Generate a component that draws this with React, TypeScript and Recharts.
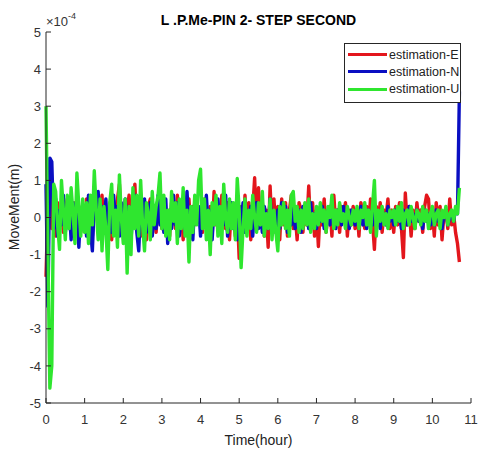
import { LineChart, Line, XAxis, YAxis, Legend } from "recharts";

// sampling step of the record, in hours
const STEP = 0.05;

// movement, in units of 1e-4 m, one value per 0.05 h (0 .. 10.70 h)
const EAST = [
  -1.6, 0.3, 0.9, -0.3, 0.2, -0.5, 0.4, -0.2, 0.3, -0.4, 0.2, 0.5, -0.3, 0.1, -0.5, 0.4, 0.0, 0.3, -0.4, 0.2,
  -0.3, 0.5, -0.1, 0.3, -0.5, 0.2, 0.4, -0.3, 0.1, 0.6, -0.4, 0.2, -0.2, 0.4, -0.6, 0.3, 0.1, 0.5, 0.9, -0.2,
  0.3, -0.4, 0.2, 0.6, -0.3, 0.1, 0.9, -0.2, 0.4, -0.5, 0.2, 0.0, -0.6, 0.3, 0.5, -0.2, 0.1, -0.4, 0.4, 0.2,
  -0.3, 0.5, -0.1, 0.2, -0.5, 0.4, 0.1, -0.3, 0.6, -0.2, 0.3, -0.6, 0.2, 0.0, 0.5, -0.4, 0.3, -0.2, 0.4, -0.1,
  0.2, -0.4, 0.5, 0.1, -0.3, 0.3, -0.5, 0.7, -0.2, 0.2, -0.4, 0.6, 0.0, -0.3, 0.4, -0.6, 0.3, 0.1, -0.5, 0.2,
  -1.1, 0.3, -0.4, 0.6, -0.2, 0.4, -0.6, 0.2, 1.07, -0.3, 0.8, -0.2, 0.4, -0.5, 0.2, -0.8, 0.85, -0.3, 0.5, -0.4,
  0.3, -0.6, 0.5, -0.2, 0.4, -0.5, 0.2, 0.6, -0.3, 0.1, -0.6, 0.4, 0.2, -0.4, 0.3, -0.2, 0.85, -0.3, 0.4, -0.5,
  0.2, -0.78, 0.3, -0.2, 0.5, -0.4, 0.1, 0.3, -0.5, 0.6, -0.2, 0.2, -0.4, 0.3, -0.1, 0.4, -0.5, 0.2, -0.2, 0.3,
  -0.3, 0.2, -0.5, 0.4, 0.1, -0.3, 0.3, -0.2, 0.5, -0.1, -0.86, 0.3, -0.2, 0.4, -0.4, 0.2, 0.0, 0.5, -0.3, 0.2,
  -0.4, 0.3, -0.2, 0.4, -0.3, -1.08, 0.66, -0.2, 0.3, -0.5, 0.2, -0.3, 0.4, -0.1, 0.2, -0.4, 0.3, 0.6, 0.5, -0.3,
  0.2, -0.5, 0.4, -0.2, 0.3, -0.6, 0.1, 0.2, -0.3, 0.5, -0.2, 0.1, -0.4, -0.7, -1.2,
];

const NORTH = [
  0.9, -2.4, 1.6, 1.5, -0.3, 0.5, -0.5, 0.2, -0.2, 0.6, -0.4, 0.1, 0.3, -0.6, 0.4, -0.2, 0.5, -0.8, 0.2, -0.3,
  0.3, -0.5, 0.6, -0.3, -0.9, 0.4, 0.1, 0.7, -0.4, 0.3, -0.2, 0.5, -0.8, 0.2, -0.4, 0.6, -0.1, 0.3, -0.5, 0.4,
  -0.3, 0.5, -0.2, 0.3, -0.6, 0.2, 0.6, -0.4, -0.9, 0.3, -0.2, 0.5, -0.4, 0.2, 0.4, -0.5, 0.1, -0.3, 0.6, -0.2,
  0.3, -0.4, 0.5, -0.7, 0.2, -0.3, 0.6, -0.2, 0.4, -0.5, 0.1, 0.3, -0.4, 0.7, -0.3, 0.2, -0.6, 0.4, -0.1, 0.3,
  -0.5, 0.4, -0.2, 0.6, -0.3, 0.2, -0.6, 0.3, 0.0, 0.5, -0.4, 0.2, -0.2, 0.6, -0.5, 0.1, 0.4, -0.3, 0.2, -0.6,
  0.3, -0.2, 0.4, -0.4, 0.2, -0.1, 0.3, -0.5, 0.2, 0.4, -0.3, 0.1, -0.4, 0.3, 0.0, -0.3, 0.5, -0.2, 0.1, -0.4,
  0.2, -0.3, 0.4, -0.1, 0.3, -0.4, 0.2, -0.2, 0.3, -0.3, 0.1, 0.2, -0.4, 0.3, -0.1, 0.2, -0.3, 0.4, -0.2, 0.1,
  -0.3, 0.2, -0.1, 0.3, -0.3, 0.1, 0.2, -0.2, 0.3, -0.1, -0.3, 0.2, 0.0, -0.2, 0.3, -0.1, 0.1, -0.3, 0.2, 0.0,
  -0.2, 0.2, -0.1, 0.3, -0.2, 0.1, -0.3, 0.2, 0.0, -0.2, 0.2, -0.1, 0.1, -0.3, 0.2, 0.0, -0.2, 0.3, -0.1, 0.1,
  -0.2, 0.2, -0.1, 0.1, -0.3, 0.2, 0.0, -0.2, 0.3, -0.1, 0.1, -0.2, 0.2, -0.1, 0.0, -0.3, 0.2, -0.1, 0.1, -0.2,
  0.1, -0.2, 0.2, -0.1, 0.0, -0.3, 0.1, 0.2, -0.2, 0.0, 0.1, -0.1, 0.2, 0.1, 3.4,
];

const UP = [
  3.0, -1.0, -4.6, -4.0, 0.9, 0.7, -0.2, -0.86, 1.0, 0.2, -0.6, 0.6, -0.3, 0.8, 0.1, -0.7, 1.2, 0.3, -0.5, 0.5,
  -0.4, 0.4, -0.7, 0.6, -0.2, 1.26, 0.2, -0.6, 0.5, -0.9, 0.3, -0.3, -1.4, 0.4, 0.9, -0.5, 0.2, -0.8, 1.15, 0.0,
  -0.7, 0.5, -1.5, 0.3, -1.0, 0.8, -0.3, 0.6, -0.5, 1.0, -0.2, -0.9, 0.4, 0.1, -0.6, 0.7, -0.2, 0.3, 0.6, 1.2,
  -0.3, 0.6, -0.5, 0.2, -0.6, 0.7, -0.1, 0.4, -0.7, 0.5, -0.3, 0.8, -0.5, 0.2, -1.2, 0.3, -0.4, 0.6, -0.2, 1.0,
  1.3, -0.3, 0.5, -0.6, 0.2, -1.0, 0.4, -0.2, 0.6, -0.5, 0.3, -0.7, 0.9, 0.0, -0.4, 0.5, -0.3, 0.4, -0.6, 1.05,
  0.2, -1.35, -0.3, 0.5, -0.5, 0.2, -0.3, 0.6, 0.0, -0.4, 0.4, -0.2, 0.7, -0.5, 0.1, -0.3, 0.5, -0.6, 0.2, -0.4,
  -0.9, 0.3, -0.2, 0.4, -0.3, 0.2, -0.5, 0.6, 0.7, -0.1, 0.3, -0.4, 0.2, -0.3, 0.4, -0.2, 0.5, -0.4, 0.1, -0.3,
  0.3, -0.2, 0.4, -0.1, 0.2, -0.4, 0.3, 0.0, 0.6, -0.3, 0.2, -0.2, 0.4, -0.1, 0.1, -0.3, 0.3, 0.0, -0.2, 0.2,
  -0.1, 0.3, -0.3, 0.2, 0.0, 0.4, -0.2, 0.2, -0.4, 0.3, 1.0, -0.5, 0.2, -0.1, 0.3, -0.2, 0.1, -0.3, 0.2, 0.0,
  0.2, -0.2, 0.3, -0.1, 0.4, -0.3, 0.1, 0.2, -0.2, 0.3, 0.0, -0.3, 0.2, 0.1, -0.2, 0.3, -0.1, 0.2, -0.3, 0.1,
  0.3, -0.2, 0.1, 0.2, -0.3, 0.2, 0.0, 0.3, -0.2, 0.1, 0.2, -0.1, 0.3, 0.1, 0.8,
];

const X_TICKS = [0, 1, 2, 3, 4, 5, 6, 7, 8, 9, 10, 11];
const Y_TICKS = [-5, -4, -3, -2, -1, 0, 1, 2, 3, 4, 5];

const SERIES = [
  { key: "e", name: "estimation-E", color: "#e3161c" },
  { key: "n", name: "estimation-N", color: "#0a0fc2" },
  { key: "u", name: "estimation-U", color: "#2fe62f" },
];

const FONT = "'Liberation Sans', Arial, Helvetica, sans-serif";
const AXIS = "#262626";

const rows = EAST.map((e, i) => ({
  t: +(i * STEP).toFixed(2),
  e,
  n: NORTH[i],
  u: UP[i],
}));

function LegendBox({ payload }: any) {
  const items = payload || [];
  return (
    <div
      style={{
        width: 115,
        height: 56,
        border: `1px solid ${AXIS}`,
        background: "#fff",
        fontFamily: FONT,
        fontSize: 12.5,
        color: "#222",
        paddingTop: 2,
        boxSizing: "content-box",
      }}
    >
      {items.map((it: any) => (
        <div key={it.value} style={{ display: "flex", alignItems: "center", height: 17.3 }}>
          <span style={{ display: "inline-block", width: 39, height: 3, background: it.color, marginLeft: 3, marginRight: 2 }} />
          <span>{it.value}</span>
        </div>
      ))}
    </div>
  );
}

export default function App() {
  return (
    <div style={{ position: "absolute", left: 0, top: 0, width: 478, height: 450, background: "#fff", fontFamily: FONT }}>
      <div
        style={{
          position: "absolute",
          left: 46,
          width: 425,
          top: 13,
          textAlign: "center",
          fontWeight: "bold",
          fontSize: 14,
          lineHeight: "14px",
          color: "#000",
        }}
      >
        L .P.Me-PIN 2- STEP SECOND
      </div>
      <div style={{ position: "absolute", left: 46, top: 15, fontSize: 13, lineHeight: "13px", color: "#333" }}>
        ×10<span style={{ fontSize: 9, position: "relative", top: -7 }}>-4</span>
      </div>
      <LineChart width={478} height={450} data={rows} margin={{ top: 32, right: 7, bottom: 0, left: 0 }}>
        <XAxis
          type="number"
          dataKey="t"
          domain={[0, 11]}
          ticks={X_TICKS}
          interval={0}
          height={47}
          stroke={AXIS}
          tickSize={-5}
          tickMargin={17}
          tick={{ fill: "#333", fontSize: 13, fontFamily: FONT }}
          label={{ value: "Time(hour)", position: "insideBottom", offset: 5, fill: "#222", fontSize: 14, fontFamily: FONT }}
        />
        <YAxis
          type="number"
          domain={[-5, 5]}
          ticks={Y_TICKS}
          interval={0}
          width={46}
          stroke={AXIS}
          tickSize={-5}
          tickMargin={10}
          tick={{ fill: "#333", fontSize: 13, fontFamily: FONT }}
          label={{
            content: () => (
              <text
                x={14}
                y={207}
                transform="rotate(-90 14 207)"
                textAnchor="middle"
                dominantBaseline="central"
                fill="#222"
                fontSize={14}
                fontFamily={FONT}
              >
                MoveMent(m)
              </text>
            ),
          }}
        />
        <Legend
          layout="vertical"
          align="center"
          verticalAlign="middle"
          wrapperStyle={{ left: 344, top: 43, width: 117 }}
          content={<LegendBox />}
        />
        {SERIES.map((s) => (
          <Line
            key={s.key}
            type="linear"
            dataKey={s.key}
            name={s.name}
            stroke={s.color}
            strokeWidth={3.4}
            strokeLinejoin="round"
            dot={false}
            activeDot={false}
            isAnimationActive={false}
          />
        ))}
      </LineChart>
    </div>
  );
}
